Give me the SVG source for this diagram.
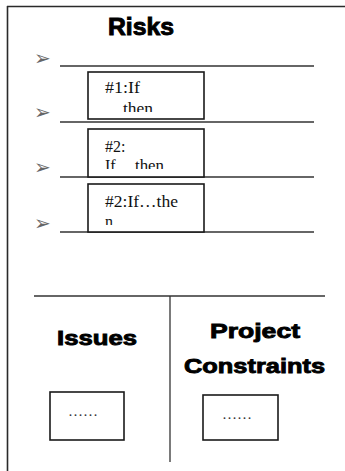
<svg xmlns="http://www.w3.org/2000/svg" width="345" height="471" viewBox="0 0 345 471">
<style>
.frame{stroke:#2a2a2a;stroke-width:1.6;fill:none}
.ln{stroke:#333;stroke-width:1.3;fill:none}
.box{fill:#fff;stroke:#1a1a1a;stroke-width:1.6}
.head{font-family:"Liberation Sans",Arial,sans-serif;font-weight:bold;fill:#000;stroke:#000;stroke-width:0.9}
.bt{font-family:"Liberation Serif","Times New Roman",serif;font-size:16px;fill:#111}
.bul{font-family:"DejaVu Sans",sans-serif;font-size:20px;fill:#666}
.dots{font-family:"Liberation Serif","Times New Roman",serif;font-size:15px;fill:#333}
</style>
<defs>
<clipPath id="c1"><rect x="88" y="72" width="116" height="40"/></clipPath>
<clipPath id="c2"><rect x="88" y="129" width="116" height="40"/></clipPath>
<clipPath id="c3"><rect x="88" y="184" width="116" height="41"/></clipPath>
</defs>
<rect width="345" height="471" fill="#fff"/>
<g id="frame">
<line class="frame" x1="7" y1="6.5" x2="345" y2="6.5"/>
<line class="frame" x1="7.5" y1="6" x2="7.5" y2="471"/>
</g>
<g id="connectors">
<line class="ln" x1="60" y1="66" x2="314" y2="66"/>
<line class="ln" x1="60" y1="122" x2="314" y2="122"/>
<line class="ln" x1="60" y1="177" x2="314" y2="177"/>
<line class="ln" x1="60" y1="232" x2="314" y2="232"/>
<line class="ln" x1="34" y1="296" x2="325" y2="296"/>
<line class="ln" x1="170" y1="296" x2="170" y2="462"/>
</g>
<g id="bullets">
<text class="bul" x="34" y="65">➢</text>
<text class="bul" x="34" y="119">➢</text>
<text class="bul" x="34" y="174">➢</text>
<text class="bul" x="34" y="230">➢</text>
</g>
<g id="risks-title">
<text class="head" x="108" y="35" font-size="23" textLength="66" lengthAdjust="spacingAndGlyphs">Risks</text>
</g>
<g id="risk1">
<rect class="box" x="88" y="72" width="116" height="47"/>
<g clip-path="url(#c1)">
<text class="bt" x="105" y="93" textLength="35" lengthAdjust="spacingAndGlyphs">#1:If</text>
<text class="bt" x="123" y="114" textLength="30" lengthAdjust="spacingAndGlyphs">then</text>
</g>
</g>
<g id="risk2">
<rect class="box" x="88" y="129" width="116" height="48"/>
<g clip-path="url(#c2)">
<text class="bt" x="105" y="152">#2:</text>
<text class="bt" x="105" y="171">If</text>
<text class="bt" x="135" y="171" textLength="29" lengthAdjust="spacingAndGlyphs">then</text>
</g>
</g>
<g id="risk3">
<rect class="box" x="88" y="184" width="116" height="48"/>
<g clip-path="url(#c3)">
<text class="bt" x="105" y="207" textLength="73" lengthAdjust="spacingAndGlyphs">#2:If…the</text>
<text class="bt" x="105" y="227">n</text>
</g>
</g>
<g id="issues">
<text class="head" x="57" y="345" font-size="21" textLength="80" lengthAdjust="spacingAndGlyphs">Issues</text>
<rect class="box" x="50" y="392" width="74" height="48"/>
<text class="dots" x="68" y="416">……</text>
</g>
<g id="constraints">
<text class="head" x="210" y="338" font-size="21" textLength="90" lengthAdjust="spacingAndGlyphs">Project</text>
<text class="head" x="184" y="373" font-size="21" textLength="141" lengthAdjust="spacingAndGlyphs">Constraints</text>
<rect class="box" x="203" y="395" width="75" height="45"/>
<text class="dots" x="222" y="419">……</text>
</g>
</svg>
